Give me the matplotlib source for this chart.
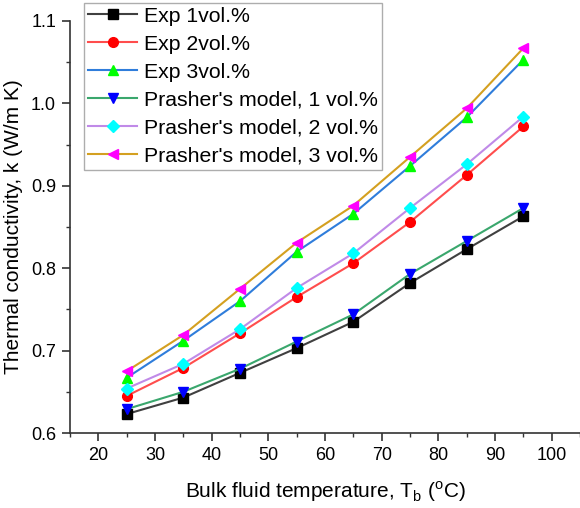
import matplotlib
matplotlib.use("Agg")
import matplotlib.pyplot as plt
from matplotlib.ticker import MultipleLocator

plt.rcParams["font.family"] = ["Liberation Sans", "DejaVu Sans"]

temperature = [25, 35, 45, 55, 65, 75, 85, 95]

exp_1 = [0.623, 0.643, 0.673, 0.703, 0.735, 0.782, 0.823, 0.863]
exp_2 = [0.645, 0.679, 0.721, 0.765, 0.806, 0.856, 0.913, 0.972]
exp_3 = [0.667, 0.712, 0.760, 0.820, 0.866, 0.924, 0.983, 1.053]
prasher_1 = [0.629, 0.650, 0.678, 0.711, 0.744, 0.793, 0.833, 0.873]
prasher_2 = [0.654, 0.684, 0.726, 0.776, 0.818, 0.873, 0.926, 0.984]
prasher_3 = [0.675, 0.719, 0.775, 0.831, 0.876, 0.935, 0.994, 1.067]

series = [
    ("Exp 1vol.%", exp_1, "#404040", "s", "black"),
    ("Exp 2vol.%", exp_2, "#ff4d4d", "o", "#ff0000"),
    ("Exp 3vol.%", exp_3, "#2f7ddb", "^", "#00ff00"),
    ("Prasher's model, 1 vol.%", prasher_1, "#3aa76d", "v", "#0000ff"),
    ("Prasher's model, 2 vol.%", prasher_2, "#c08ae8", "D", "#00ffff"),
    ("Prasher's model, 3 vol.%", prasher_3, "#d4a020", "<", "#ff00ff"),
]

fig = plt.figure(figsize=(5.8, 5.08), dpi=100)
ax = fig.add_axes([0.1207, 0.1476, 0.8793, 0.8111])

for label, values, line_color, marker, marker_color in series:
    size = 6 if marker == "D" else 7
    ax.plot(temperature, values, color=line_color, linewidth=1.5,
            marker=marker, markersize=size, markerfacecolor=marker_color,
            markeredgecolor=marker_color, label=label)

ax.set_xlim(15, 105)
ax.set_ylim(0.6, 1.1)
ax.xaxis.set_major_locator(MultipleLocator(10))
ax.xaxis.set_minor_locator(MultipleLocator(5))
ax.yaxis.set_major_locator(MultipleLocator(0.1))
ax.yaxis.set_minor_locator(MultipleLocator(0.05))
ax.yaxis.set_major_formatter(matplotlib.ticker.FormatStrFormatter("%.1f"))

ax.spines["top"].set_visible(False)
ax.spines["right"].set_visible(False)
for s in ["left", "bottom"]:
    ax.spines[s].set_linewidth(1.2)
    ax.spines[s].set_color("#333333")

ax.tick_params(which="major", direction="out", length=6, width=1.2,
               labelsize=13, color="#333333", pad=4)
ax.tick_params(which="minor", direction="out", length=3, width=1.0,
               color="#333333")

ax.set_xlabel("Bulk fluid temperature, T$_\\mathregular{b}$ ($^\\mathregular{o}$C)",
              fontsize=15, labelpad=11)
ax.set_ylabel("Thermal conductivity, k (W/m K)", fontsize=15, labelpad=6)

leg = fig.legend(loc="upper left", bbox_to_anchor=(0.145, 0.995), fontsize=15.3,
                 frameon=True, fancybox=False, edgecolor="#999999",
                 handlelength=2.3, handletextpad=0.3, labelspacing=0.42,
                 borderpad=0.2, borderaxespad=0)
leg.get_frame().set_linewidth(1.0)

fig.savefig("out.png", dpi=100)
